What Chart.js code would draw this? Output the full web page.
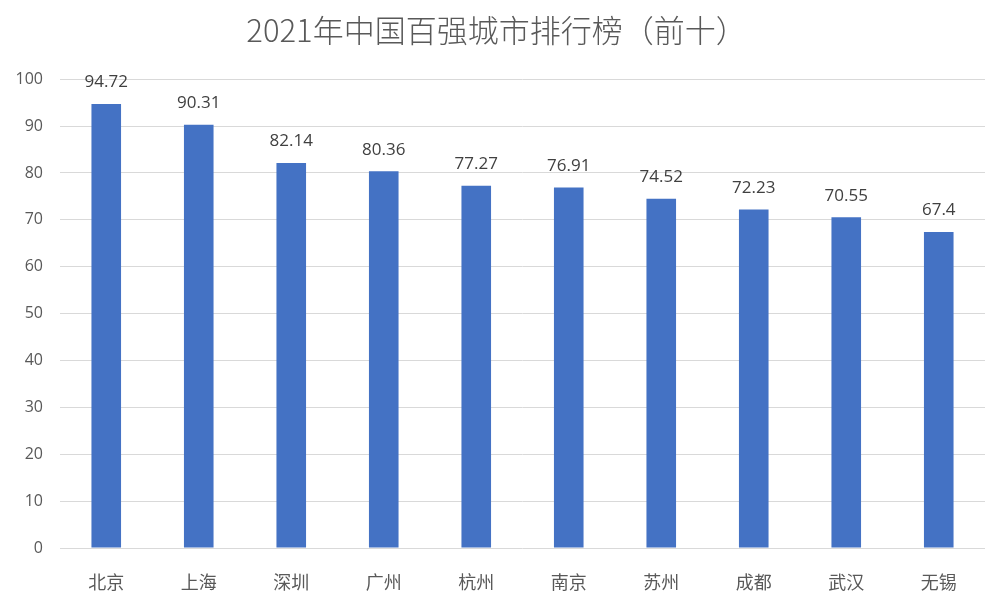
<!DOCTYPE html>
<html>
<head>
<meta charset="utf-8">
<script src="https://cdn.jsdelivr.net/npm/chart.js@4"></script>
<style>
  html, body { margin: 0; padding: 0; background: #fff; }
  #wrap { width: 1000px; height: 591px; }
</style>
</head>
<body>
<div id="wrap"><canvas id="myChart"></canvas></div>
<script>
const cities = ['北京', '上海', '深圳', '广州', '杭州', '南京', '苏州', '成都', '武汉', '无锡'];
const scores = [94.72, 90.31, 82.14, 80.36, 77.27, 76.91, 74.52, 72.23, 70.55, 67.4];
const yTicks = [0, 10, 20, 30, 40, 50, 60, 70, 80, 90, 100];

const FONT = '"Noto Sans CJK SC", "Noto Sans", sans-serif';
const NUM_FONT = '"Open Sans", "Noto Sans", sans-serif';

// value labels above bars
const barLabels = {
  id: 'barLabels',
  afterDatasetsDraw(chart) {
    const c = chart.ctx;
    const meta = chart.getDatasetMeta(0);
    c.save();
    c.font = '17px ' + NUM_FONT;
    c.fillStyle = '#404040';
    c.textAlign = 'center';
    c.textBaseline = 'bottom';
    meta.data.forEach((bar, i) => {
      c.fillText(String(scores[i]), bar.x, bar.y - 13);
    });
    c.restore();
  }
};

const ctx = document.getElementById('myChart');

new Chart(ctx, {
  type: 'bar',
  data: {
    labels: cities,
    datasets: [{
      data: scores,
      backgroundColor: '#4472C4',
      categoryPercentage: 1,
      barPercentage: 0.32
    }]
  },
  options: {
    responsive: true,
    maintainAspectRatio: false,
    animation: false,
    layout: { padding: { left: 8, right: 15, top: 0, bottom: 0 } },
    plugins: {
      legend: { display: false },
      tooltip: { enabled: false },
      title: {
        display: true,
        text: '2021年中国百强城市排行榜（前十）',
        color: '#595959',
        font: { size: 31, family: FONT, weight: 300 },
        padding: { top: 12, bottom: 30 }
      }
    },
    scales: {
      x: {
        grid: { display: false },
        border: { display: false },
        ticks: {
          color: '#595959',
          padding: 15,
          font: { size: 18, family: FONT }
        },
        afterFit(s) { s.height = 43; }
      },
      y: {
        min: 0,
        max: 100,
        afterBuildTicks(s) { s.ticks = yTicks.map(v => ({ value: v })); },
        grid: { color: '#d9d9d9', drawTicks: false },
        border: { display: false },
        ticks: {
          color: '#595959',
          padding: 17,
          font: { size: 16, family: NUM_FONT }
        },
        afterFit(s) { s.width = 52; }
      }
    }
  },
  plugins: [barLabels]
});
</script>
</body>
</html>
